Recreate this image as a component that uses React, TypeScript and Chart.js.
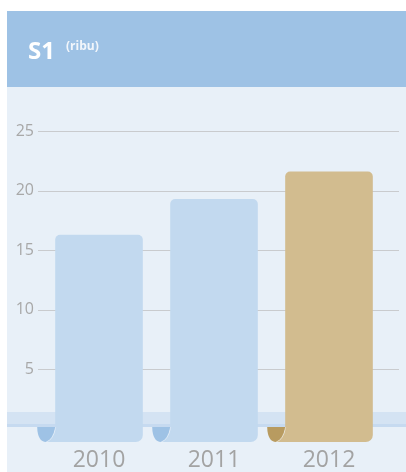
import React, { useEffect, useRef } from "react";
import { Chart, registerables } from "chart.js";

Chart.register(...registerables);

const years = ["2010", "2011", "2012"];
const values = [16.3, 19.3, 21.6];
const yTicks = [5, 10, 15, 20, 25];
const barColors = ["#C2D9EF", "#C2D9EF", "#D2BC8F"];
const curlColors = ["#9EC2E5", "#9EC2E5", "#B89B60"];
const title = "S1";
const unit = "(ribu)";

const W = 406;
const H = 472;
const Y_MIN = -1.1;
const FONT = "'Open Sans', 'Noto Sans', sans-serif";

const panelPlugin = {
  id: "panel",
  beforeDraw(chart: any) {
    const ctx = chart.ctx;
    ctx.save();
    ctx.fillStyle = "#E8F0F8";
    ctx.fillRect(7, 11, W - 7, H - 11);
    ctx.fillStyle = "#9EC2E5";
    ctx.fillRect(7, 11, W - 7, 76);
    ctx.fillStyle = "#FFFFFF";
    ctx.textBaseline = "alphabetic";
    ctx.textAlign = "left";
    ctx.font = `bold 24px ${FONT}`;
    ctx.fillText(title, 28, 59);
    ctx.fillStyle = "#F2F6FB";
    ctx.font = `bold 12px ${FONT}`;
    ctx.fillText(unit, 66, 49.5);
    ctx.restore();
  },
  beforeDatasetsDraw(chart: any) {
    const ctx = chart.ctx;
    const y = chart.scales.y;
    const base = y.getPixelForValue(y.min);
    ctx.save();
    // baseline band
    ctx.fillStyle = "#D4E3F3";
    ctx.fillRect(7, base - 30, W - 7, 12);
    ctx.fillStyle = "#C6DAF0";
    ctx.fillRect(7, base - 18, W - 7, 3);
    // grid lines
    ctx.strokeStyle = "#C9CBCE";
    ctx.lineWidth = 1;
    for (const t of yTicks) {
      const py = Math.round(y.getPixelForValue(t)) + 0.5;
      ctx.beginPath();
      ctx.moveTo(38, py);
      ctx.lineTo(399, py);
      ctx.stroke();
    }
    ctx.restore();
  },
  afterDatasetsDraw(chart: any) {
    const ctx = chart.ctx;
    const meta = chart.getDatasetMeta(0);
    ctx.save();
    meta.data.forEach((bar: any, i: number) => {
      const L = bar.x - bar.width / 2;
      const B = bar.base;
      const top = B - 15;
      // bar extension under curl
      ctx.fillStyle = barColors[i];
      ctx.beginPath();
      ctx.moveTo(L + 1, top);
      ctx.quadraticCurveTo(L - 2, B - 2, L - 9, B);
      ctx.lineTo(L + 2, B);
      ctx.closePath();
      ctx.fill();
      // curl
      ctx.fillStyle = curlColors[i];
      ctx.beginPath();
      ctx.moveTo(L - 18, top);
      ctx.quadraticCurveTo(L - 17.5, B, L - 9, B);
      ctx.quadraticCurveTo(L - 2, B - 2, L + 0.5, top);
      ctx.closePath();
      ctx.fill();
      ctx.strokeStyle = "rgba(255,255,255,0.6)";
      ctx.lineWidth = 0.8;
      ctx.beginPath();
      ctx.moveTo(L - 9, B);
      ctx.quadraticCurveTo(L - 2, B - 2, L + 0.5, top);
      ctx.stroke();
    });
    ctx.restore();
  },
};

export default function App() {
  const ref = useRef<HTMLCanvasElement>(null);
  useEffect(() => {
    if (!ref.current) return;
    const chart = new Chart(ref.current, {
      type: "bar",
      data: {
        labels: years,
        datasets: [
          {
            data: values,
            base: Y_MIN,
            backgroundColor: barColors,
            borderWidth: 0,
            borderSkipped: false,
            borderRadius: { topLeft: 5, topRight: 5, bottomRight: 7, bottomLeft: 0 },
            barPercentage: 0.762,
            categoryPercentage: 1,
          } as any,
        ],
      },
      options: {
        responsive: false,
        animation: false,
        layout: { padding: { top: 131, right: 19.5, left: 0, bottom: 0 } },
        plugins: { legend: { display: false }, tooltip: { enabled: false }, title: { display: false } },
        scales: {
          x: {
            type: "category",
            offset: true,
            grid: { display: false },
            border: { display: false },
            ticks: { color: "#A3A3A3", font: { family: FONT, size: 23 }, padding: -3 },
            afterFit: (s: any) => {
              s.height = 30;
            },
          },
          y: {
            min: Y_MIN,
            max: 25,
            grid: { display: false, drawTicks: false },
            border: { display: false },
            afterBuildTicks: (s: any) => {
              s.ticks = yTicks.map((v) => ({ value: v }));
            },
            ticks: { color: "#A8A8A8", font: { family: FONT, size: 16 }, padding: 7.5 },
            afterFit: (s: any) => {
              s.width = 41.5;
            },
          },
        },
      },
      plugins: [panelPlugin],
    });
    return () => chart.destroy();
  }, []);
  return (
    <div style={{ position: "absolute", left: 0, top: 0, width: W, height: H }}>
      <canvas ref={ref} width={W} height={H} style={{ width: W, height: H, display: "block" }} />
    </div>
  );
}
